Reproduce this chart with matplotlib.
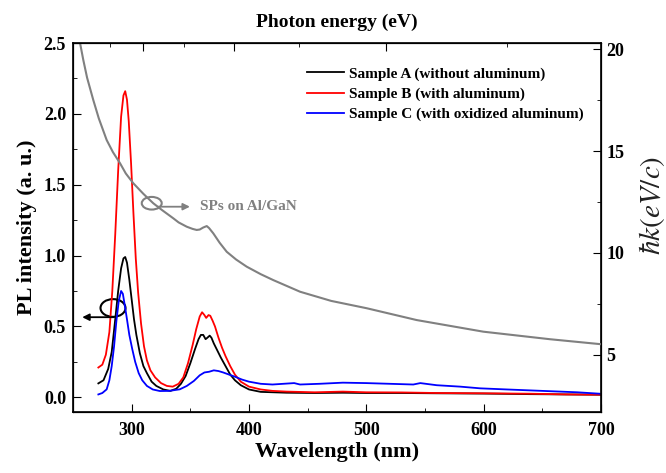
import matplotlib
matplotlib.use("Agg")
import matplotlib.pyplot as plt
from matplotlib.patches import Ellipse
from matplotlib.ticker import MultipleLocator, FixedLocator, NullFormatter

plt.rcParams['font.family'] = ['Liberation Serif', 'DejaVu Serif']
plt.rcParams['mathtext.fontset'] = 'stix'

# ---- data ----
wl_b = [271.6, 275, 278, 281, 283.5, 286, 288.5, 291, 293, 294.5, 296, 297.5, 299.5, 301.5,
        303.5, 305.5, 308, 310.5, 313, 316, 320, 325, 330, 335, 340, 344, 348, 352, 355, 358,
        360, 362, 363.5, 365.5, 367, 369, 371, 374, 377, 380, 384, 388, 393, 400, 410, 420,
        432, 456, 480, 500, 530, 560, 600, 640, 670, 700]
pl_b = [0.21, 0.23, 0.30, 0.46, 0.75, 1.15, 1.60, 1.98, 2.13, 2.16, 2.10, 1.95, 1.65, 1.30,
        0.98, 0.74, 0.52, 0.36, 0.26, 0.19, 0.14, 0.10, 0.08, 0.075, 0.095, 0.14, 0.24, 0.37,
        0.48, 0.57, 0.60, 0.58, 0.56, 0.58, 0.575, 0.54, 0.50, 0.42, 0.35, 0.29, 0.22, 0.16,
        0.11, 0.075, 0.055, 0.045, 0.04, 0.035, 0.04, 0.035, 0.034, 0.03, 0.028, 0.025, 0.02,
        0.018]

wl_a = [271.6, 276, 280, 283, 286, 288.5, 291, 293, 294.5, 296, 298, 300, 302, 304, 307, 310,
        313, 317, 321, 327, 333, 338, 342, 346, 350, 354, 357, 359, 361, 363, 364.5, 366.5,
        368, 370, 373, 376, 380, 384, 388, 393, 400, 410, 432, 456, 480, 500, 530, 560, 600,
        640, 670, 700]
pl_a = [0.098, 0.12, 0.20, 0.32, 0.55, 0.75, 0.91, 0.98, 0.99, 0.95, 0.83, 0.69, 0.55, 0.44,
        0.31, 0.22, 0.17, 0.11, 0.08, 0.055, 0.045, 0.06, 0.095, 0.15, 0.24, 0.34, 0.41, 0.44,
        0.44, 0.41, 0.42, 0.435, 0.42, 0.38, 0.33, 0.28, 0.22, 0.16, 0.12, 0.085, 0.055,
        0.038, 0.032, 0.03, 0.032, 0.03, 0.03, 0.028, 0.026, 0.022, 0.02, 0.018]

wl_c = [271.6, 275, 278.7, 281, 283, 285, 287, 289, 291, 292.5, 294.3, 296, 298, 300.5, 303,
        306, 309, 313, 318, 324, 332, 341, 347, 353, 358, 362, 366, 370, 374, 378, 383, 388,
        394, 400, 410, 420, 438.5, 443.5, 460, 480, 500, 520, 540, 546, 560, 580, 597, 620,
        650, 680, 699]
pl_c = [0.02, 0.03, 0.056, 0.12, 0.22, 0.36, 0.54, 0.68, 0.75, 0.73, 0.64, 0.55, 0.44, 0.34,
        0.25, 0.17, 0.12, 0.08, 0.055, 0.044, 0.045, 0.056, 0.08, 0.115, 0.155, 0.175, 0.18,
        0.19, 0.185, 0.175, 0.16, 0.145, 0.125, 0.11, 0.095, 0.09, 0.10, 0.09, 0.095, 0.103,
        0.10, 0.095, 0.09, 0.10, 0.085, 0.075, 0.063, 0.055, 0.045, 0.035, 0.025]

wl_sp = [252.6, 256.0, 258.8, 262.0, 267.3, 272.0, 278.7, 284.0, 290.1, 295.0, 301.4, 310.0,
         318.4, 326.0, 335.5, 340.0, 346.9, 352.0, 355.4, 358.0, 361.0, 364.0, 366.0, 369.6,
         375.0, 381.0, 389.0, 398.0, 410.0, 420.7, 443.5, 470.0, 500.3, 542.9, 599.7, 656.5,
         699.1]
hk_sp = [20.93, 20.30, 19.46, 18.60, 17.50, 16.60, 15.54, 14.95, 14.40, 13.90, 13.42, 12.90,
         12.44, 12.10, 11.70, 11.50, 11.29, 11.18, 11.13, 11.15, 11.25, 11.32, 11.22, 10.96,
         10.50, 10.06, 9.68, 9.33, 8.96, 8.67, 8.10, 7.65, 7.29, 6.71, 6.14, 5.77, 5.53]

labels = ["Sample A (without aluminum)", "Sample B (with aluminum)",
          "Sample C (with oxidized aluminum)"]
x_ticks = [300, 400, 500, 600, 700]
y_ticks = [0.0, 0.5, 1.0, 1.5, 2.0, 2.5]
y2_ticks = [5, 10, 15, 20]
e_major = [4.0, 3.2, 2.4]
e_minor = [4.4, 3.6, 2.8, 2.0]

fig = plt.figure(figsize=(6.66, 4.73), dpi=100)
ax = fig.add_axes([73/666, 1-412/473, 528/666, 369/473])

la, = ax.plot(wl_a, pl_a, color='black', lw=1.3)
lb, = ax.plot(wl_b, pl_b, color='red', lw=1.3)
lc, = ax.plot(wl_c, pl_c, color='blue', lw=1.3)

ax.set_xlim(250, 700)
ax.set_ylim(-0.104, 2.5)
ax.set_xticks(x_ticks)
ax.set_xticklabels([str(v) for v in x_ticks], fontweight='bold')
ax.xaxis.set_minor_locator(MultipleLocator(50))
ax.set_yticks(y_ticks)
ax.set_yticklabels([f"{v:.1f}" for v in y_ticks], fontweight='bold')
ax.yaxis.set_minor_locator(MultipleLocator(0.25))
ax.tick_params(axis='both', which='both', direction='in', top=False, right=False, labelsize=13)
ax.tick_params(axis='x', which='major', length=6, pad=7)
ax.tick_params(axis='y', which='major', length=6, pad=5)
ax.tick_params(which='minor', length=3)
for s in ax.spines.values():
    s.set_linewidth(1.2)
ax.set_xlabel("Wavelength (nm)", fontsize=16, fontweight='bold', labelpad=2)
ax.set_ylabel("PL intensity (a. u.)", fontsize=16, fontweight='bold', labelpad=5)

leg = ax.legend([la, lb, lc], labels, loc='upper left', bbox_to_anchor=(0.444, 0.935),
                frameon=False, prop={'size': 11, 'weight': 'bold'}, handlelength=2.4,
                handletextpad=0.3, labelspacing=0.42, borderpad=0, borderaxespad=0)

# black ellipse + arrow to left axis
ax.add_patch(Ellipse((284.1, 0.63), 21.3, 0.125, fill=False, edgecolor='black', lw=1.5))
ax.annotate("", xy=(255.5, 0.565), xytext=(287.0, 0.565),
            arrowprops=dict(arrowstyle='-|>', color='black', lw=1.3, mutation_scale=10))

# top axis: photon energy
axt = ax.twiny()
axt.set_xlim(ax.get_xlim())
axt.xaxis.set_major_locator(FixedLocator([1240/e for e in e_major]))
axt.xaxis.set_minor_locator(FixedLocator([1240/e for e in e_minor]))
axt.xaxis.set_major_formatter(NullFormatter())
axt.tick_params(axis='x', which='both', direction='in')
axt.tick_params(axis='x', which='major', length=6)
axt.tick_params(axis='x', which='minor', length=3)
axt.set_xlabel("Photon energy (eV)", fontsize=14, fontweight='bold', labelpad=8)

# right axis: SP dispersion
ax2 = ax.twinx()
ax2.plot(wl_sp, hk_sp, color='#808080', lw=1.5)
ax2.set_ylim(2.2, 20.3)
ax2.set_xlim(250, 700)
ax2.set_yticks(y2_ticks)
ax2.set_yticklabels([str(v) for v in y2_ticks], fontweight='bold')
ax2.yaxis.set_minor_locator(FixedLocator([7.5, 12.5, 17.5]))
ax2.tick_params(axis='y', which='both', direction='in', labelsize=13, pad=4)
ax2.tick_params(axis='y', which='major', length=6)
ax2.tick_params(axis='y', which='minor', length=3)
ax2.set_ylabel(r"$\hbar k(eV/c)$", fontsize=21, rotation=90, color='#222222')
ax2.yaxis.set_label_coords(1.068, 0.56)

ax2.add_patch(Ellipse((317.1, 12.44), 17.0, 0.62, fill=False, edgecolor='#808080', lw=1.5))
ax2.annotate("", xy=(352.0, 12.27), xytext=(319.9, 12.27),
             arrowprops=dict(arrowstyle='-|>', color='#808080', lw=1.3, mutation_scale=10))
ax2.text(358.2, 12.27, "SPs on Al/GaN", color='#808080', fontsize=11, fontweight='bold',
         va='center', ha='left')

fig.savefig("out.png", dpi=100)
